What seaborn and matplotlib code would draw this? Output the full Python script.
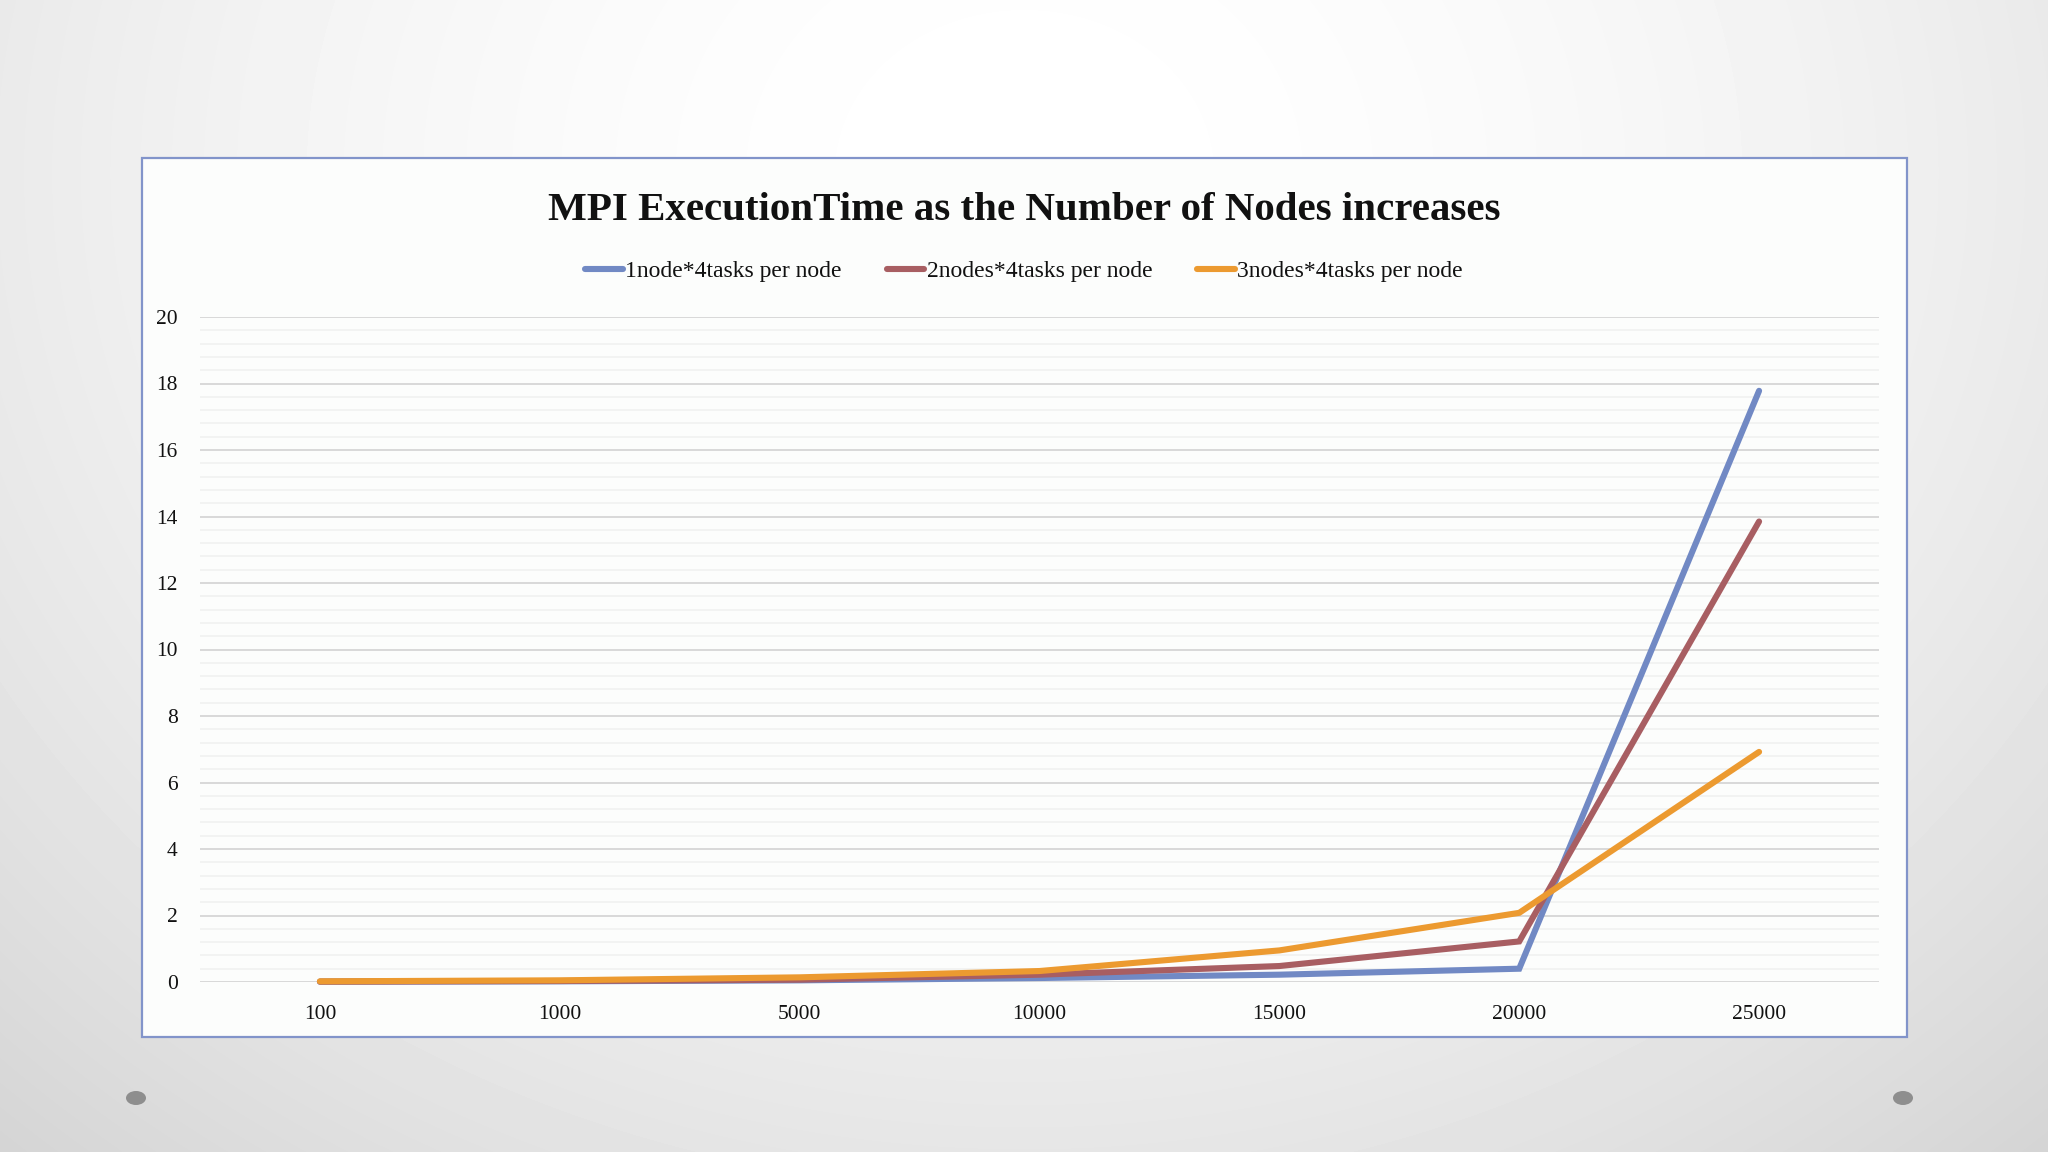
import numpy as np
import pandas as pd
import matplotlib
matplotlib.use("Agg")
import matplotlib.pyplot as plt
from matplotlib.patches import Rectangle, Ellipse
from matplotlib.lines import Line2D
import seaborn as sns

# Datos
sizes = ["100", "1000", "5000", "10000", "15000", "20000", "25000"]
one_node = [0.01, 0.02, 0.05, 0.12, 0.22, 0.40, 17.78]
two_nodes = [0.01, 0.03, 0.07, 0.22, 0.48, 1.22, 13.85]
three_nodes = [0.02, 0.05, 0.14, 0.33, 0.95, 2.08, 6.92]
series_names = ["1node*4tasks per node", "2nodes*4tasks per node", "3nodes*4tasks per node"]
colors = ["#7189C4", "#A85E62", "#EC9A30"]

df = pd.DataFrame({"size": sizes,
                   series_names[0]: one_node,
                   series_names[1]: two_nodes,
                   series_names[2]: three_nodes})
df_long = df.melt(id_vars="size", var_name="serie", value_name="time")

sns.set_theme(style="white")
plt.rcParams['font.family'] = ['Liberation Serif', 'DejaVu Serif']

W, H = 2048, 1152
fig = plt.figure(figsize=(W / 100, H / 100), dpi=100)

# Fondo de la diapositiva (degradado radial gris)
bg = fig.add_axes([0, 0, 1, 1], zorder=-10)
yy, xx = np.mgrid[0:H, 0:W]
r = np.sqrt(((xx - W * 0.5) / (W * 0.62)) ** 2 + ((yy - H * 0.15) / (H * 0.95)) ** 2)
shade = 1.0 - 0.12 * np.clip(r, 0, 1.2) ** 1.8
bg.imshow(shade, cmap="gray", vmin=0, vmax=1, aspect="auto", extent=[0, 1, 0, 1])
bg.axis("off")

# Marco del gráfico
fig.patches.append(Rectangle((142 / W, 1 - 1037 / H), (1907 - 142) / W, (1037 - 158) / H,
                             transform=fig.transFigure, facecolor="#FCFDFC",
                             edgecolor="#8294CA", linewidth=1.6, zorder=-5))
for cx in (136, 1903):
    fig.patches.append(Ellipse((cx / W, 1 - 1098 / H), 20 / W, 14 / H,
                               transform=fig.transFigure, facecolor="#8E8E8E",
                               edgecolor="none"))

ax = fig.add_axes([200 / W, 1 - 982 / H, (1879 - 200) / W, (982 - 317) / H])
ax.set_facecolor("none")

sns.lineplot(data=df_long, x="size", y="time", hue="serie", palette=colors,
             linewidth=4.4, sort=False, legend=False, ax=ax)
for ln in ax.lines:
    ln.set_solid_capstyle("round")
    ln.set_solid_joinstyle("miter")
    ln.set_clip_on(False)

ax.set_xlim(-0.5, len(sizes) - 0.5)
ax.set_ylim(0, 20)
ax.set_yticks(np.arange(0, 21, 2))
ax.set_yticks(np.arange(0, 20.01, 0.4), minor=True)
ax.yaxis.grid(True, which="major", color="#D9D9D9", linewidth=1.4)
ax.yaxis.grid(True, which="minor", color="#F0F0F0", linewidth=1.1)
ax.xaxis.grid(False)
ax.set_axisbelow(True)
for s in ax.spines.values():
    s.set_visible(False)
ax.tick_params(axis="y", which="both", length=0, pad=16, labelsize=15.5, labelcolor="#111111")
ax.tick_params(axis="x", length=0, pad=16.5, labelsize=15.5, labelcolor="#111111")
ax.set_xlabel("")
ax.set_ylabel("")

fig.text(1024 / W, 1 - 210 / H, "MPI ExecutionTime as the Number of Nodes increases",
         ha="center", va="center", fontsize=29.5, fontweight="bold", color="#111111")

handles = [Line2D([0], [0], color=c, linewidth=4.4, solid_capstyle="round") for c in colors]
fig.legend(handles, series_names, loc="center", bbox_to_anchor=(1024 / W, 1 - 271 / H),
           ncol=3, frameon=False, fontsize=17, handlelength=1.6, handletextpad=0.1,
           columnspacing=1.9, labelcolor="#111111")

fig.savefig("out.png", dpi=100)
plt.close(fig)
